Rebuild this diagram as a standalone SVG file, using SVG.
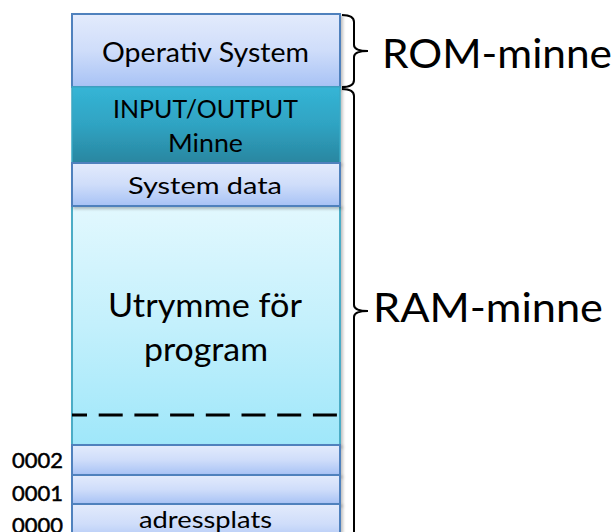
<svg xmlns="http://www.w3.org/2000/svg" width="615" height="532" viewBox="0 0 615 532">
<defs>
<linearGradient id="gBlue" x1="0" y1="0" x2="0" y2="1">
<stop offset="0" stop-color="#e3ebfc"/>
<stop offset="0.5" stop-color="#cfddfa"/>
<stop offset="1" stop-color="#a7c2f5"/>
</linearGradient>
<linearGradient id="gTeal" x1="0" y1="0" x2="0" y2="1">
<stop offset="0" stop-color="#35b5d6"/>
<stop offset="0.5" stop-color="#2fa3c2"/>
<stop offset="1" stop-color="#2a86a0"/>
</linearGradient>
<linearGradient id="gCyan" x1="0" y1="0" x2="0" y2="1">
<stop offset="0" stop-color="#e2f8fe"/>
<stop offset="0.5" stop-color="#c3f0fc"/>
<stop offset="1" stop-color="#9fe7fa"/>
</linearGradient>
<filter id="sh" x="-10%" y="-10%" width="120%" height="130%">
<feDropShadow dx="2" dy="2" stdDeviation="1.5" flood-color="#000" flood-opacity="0.25"/>
</filter>
</defs>
<style>
.blue{fill:url(#gBlue);stroke:#4f81bd;stroke-width:2}
.teal{fill:url(#gTeal);stroke:#3aa8c4;stroke-width:1.5}
.cyan{fill:url(#gCyan);stroke:#4bacc6;stroke-width:2}
.t{font-family:Lato,"Open Sans","Liberation Sans",sans-serif;fill:#000;text-anchor:start}
.num{stroke:#000;stroke-width:0.5}
.br{fill:none;stroke:#000;stroke-width:2}
</style>

<g id="utrymme">
<rect class="cyan" x="72" y="206" width="268" height="239" filter="url(#sh)"/>
<text class="t" x="108" y="317" font-size="32" textLength="194" lengthAdjust="spacingAndGlyphs">Utrymme för</text>
<text class="t" x="144" y="361" font-size="32" textLength="124" lengthAdjust="spacingAndGlyphs">program</text>
<line x1="72" y1="415" x2="340" y2="415" stroke="#000" stroke-width="3" stroke-dasharray="24 11.7" stroke-dashoffset="9"/>
</g>

<g id="operativ">
<rect class="blue" x="72" y="14" width="268" height="73" filter="url(#sh)"/>
<text class="t" x="102" y="62" font-size="26" textLength="207" lengthAdjust="spacingAndGlyphs">Operativ System</text>
</g>

<g id="io">
<rect class="teal" x="72" y="87" width="268" height="76" filter="url(#sh)"/>
<text class="t" x="113" y="118" font-size="25" textLength="185" lengthAdjust="spacingAndGlyphs">INPUT/OUTPUT</text>
<text class="t" x="168" y="152" font-size="25" textLength="75" lengthAdjust="spacingAndGlyphs">Minne</text>
</g>

<g id="systemdata">
<rect class="blue" x="72" y="163" width="268" height="43" filter="url(#sh)"/>
<text class="t" x="128" y="194" font-size="24" textLength="154" lengthAdjust="spacingAndGlyphs">System data</text>
</g>

<g id="row0002">
<rect class="blue" x="72" y="445" width="268" height="30" filter="url(#sh)"/>
<text class="t num" x="12" y="468" font-size="22" textLength="51" lengthAdjust="spacingAndGlyphs">0002</text>
</g>

<g id="row0001">
<rect class="blue" x="72" y="475" width="268" height="29" filter="url(#sh)"/>
<text class="t num" x="12" y="501" font-size="22" textLength="51" lengthAdjust="spacingAndGlyphs">0001</text>
</g>

<g id="row0000">
<rect class="blue" x="72" y="504" width="268" height="40" filter="url(#sh)"/>
<text class="t num" x="12" y="533" font-size="22" textLength="51" lengthAdjust="spacingAndGlyphs">0000</text>
<text class="t" x="139" y="528" font-size="24" textLength="133" lengthAdjust="spacingAndGlyphs">adressplats</text>
</g>

<g id="connectors">
<path class="br" d="M342,15 Q354,15 354,22 L354,45 Q354,51 368,51 Q354,51 354,57 L354,80 Q354,87 342,87"/>
<path class="br" d="M342,89 Q354,89 354,96 L354,305 Q354,311 368,311 Q354,311 354,317 L354,540"/>
</g>

<g id="rom-label">
<text class="t" x="382" y="68" font-size="40" textLength="230" lengthAdjust="spacingAndGlyphs">ROM-minne</text>
</g>
<g id="ram-label">
<text class="t" x="373" y="322" font-size="40" textLength="230" lengthAdjust="spacingAndGlyphs">RAM-minne</text>
</g>
</svg>
